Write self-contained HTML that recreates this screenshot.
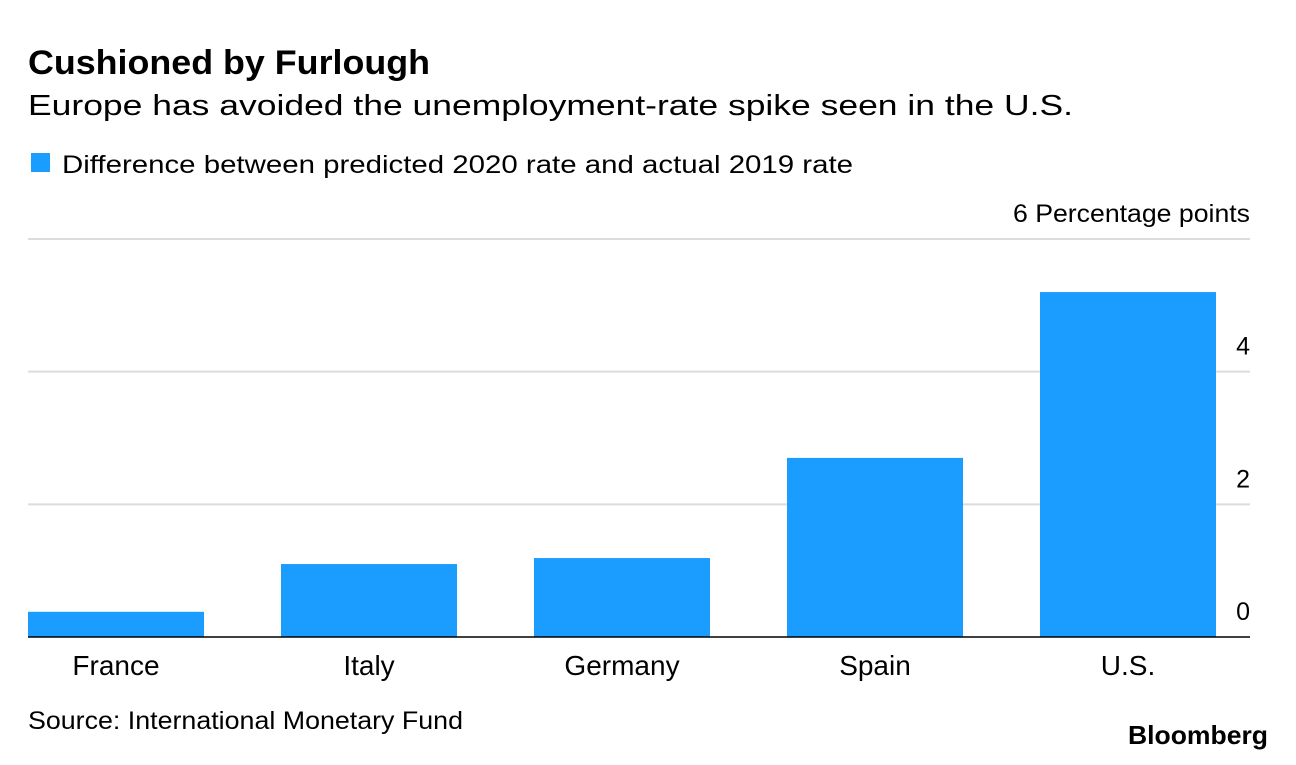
<!DOCTYPE html>
<html><head><meta charset="utf-8"><style>
body{margin:0;background:#fff;width:1296px;height:760px;overflow:hidden;font-family:"Liberation Sans",sans-serif;color:#000}
svg text{font-family:"Liberation Sans",sans-serif}
</style></head><body>
<svg width="1296" height="760">
<text x="28" y="74" font-size="34" font-weight="bold" textLength="402" lengthAdjust="spacingAndGlyphs">Cushioned by Furlough</text>
<text x="28" y="115" font-size="29" textLength="1045" lengthAdjust="spacingAndGlyphs">Europe has avoided the unemployment-rate spike seen in the U.S.</text>
<rect x="31" y="153" width="19" height="19" fill="#1a9dff"/>
<text x="62" y="173" font-size="25" textLength="791" lengthAdjust="spacingAndGlyphs">Difference between predicted 2020 rate and actual 2019 rate</text>
<g id="grid"></g>
<g id="bars"></g>
<g id="labels"></g>
<text x="28" y="729" font-size="25" textLength="435" lengthAdjust="spacingAndGlyphs">Source: International Monetary Fund</text>
<text x="1128" y="744" font-size="26" font-weight="bold" textLength="140" lengthAdjust="spacingAndGlyphs">Bloomberg</text>
</svg>
<script>
const categories=["France","Italy","Germany","Spain","U.S."];
const values=[0.38,1.1,1.19,2.7,5.2];
const ticks=[0,2,4,6];
const ns="http://www.w3.org/2000/svg";
const y0=637,unit=(637-239)/6;
function y(v){return y0-v*unit;}
function x(i){return 28+i*253;}
function mk(t,a,p){const e=document.createElementNS(ns,t);for(const k in a)e.setAttribute(k,a[k]);document.getElementById(p).appendChild(e);return e;}
ticks.forEach(t=>{
  if(t>0){const l=mk('line',{x1:28,x2:1250,y1:y(t),y2:y(t),stroke:'#dcdcdc','stroke-width':2},'grid');
  
  }
  const attrs={x:1250,y:y(t)-17,'font-size':25,'text-anchor':'end'};
  if(t===6){attrs.textLength=237;attrs.lengthAdjust='spacingAndGlyphs';}
  const tx=mk('text',attrs,'grid');
  tx.textContent=t===6?'6 Percentage points':String(t);
  
  
});
values.forEach((v,i)=>{
  const r=mk('rect',{x:x(i),y:y(v),width:176,height:y0-y(v),fill:'#1a9dff'},'bars');
  
  
  const t=mk('text',{x:x(i)+88,y:675,'font-size':28,'text-anchor':'middle'},'labels');
  t.textContent=categories[i];
  
  
});
const ax=mk('line',{x1:28,x2:1250,y1:y0,y2:y0,stroke:'#000','stroke-width':1.5},'labels');


</script>
</body></html>
